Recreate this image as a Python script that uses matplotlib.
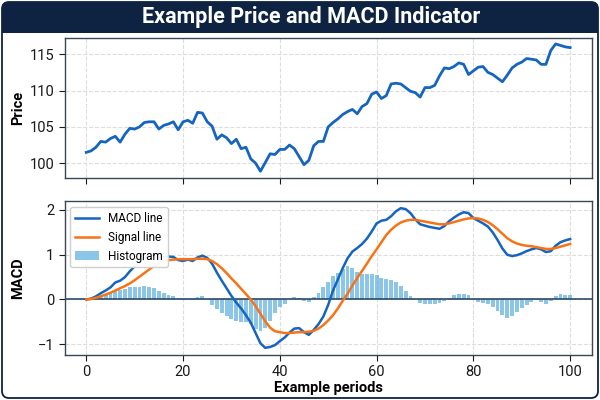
import matplotlib
matplotlib.use("Agg")
import matplotlib.pyplot as plt
from matplotlib.patches import FancyBboxPatch, Rectangle
from matplotlib.transforms import IdentityTransform

plt.rcParams['font.family'] = ['Roboto', 'DejaVu Sans']

# Data
periods = list(range(101))

price = [101.5, 101.7, 102.2, 103.0, 102.9, 103.4, 103.7, 102.9, 104.0, 104.8,
         104.7, 105.0, 105.6, 105.7, 105.7, 104.7, 105.2, 105.4, 105.7, 104.6,
         105.7, 105.9, 105.5, 107.0, 106.9, 105.7, 105.1, 103.3, 103.9, 103.5,
         102.7, 103.3, 102.0, 102.2, 100.6, 100.0, 98.9, 100.1, 101.3, 101.2,
         101.9, 101.9, 102.5, 102.0, 100.9, 99.8, 100.4, 102.4, 103.0, 103.0,
         105.0, 105.6, 106.1, 106.7, 107.1, 107.4, 106.8, 107.8, 108.2, 109.5,
         109.8, 108.9, 109.3, 110.9, 111.0, 110.9, 110.4, 109.9, 109.7, 109.1,
         110.4, 110.4, 110.7, 112.0, 113.1, 113.0, 113.3, 113.8, 113.6, 112.2,
         112.7, 113.2, 113.3, 112.5, 112.2, 111.7, 111.2, 112.1, 113.1, 113.6,
         113.9, 114.4, 114.3, 114.2, 113.6, 113.6, 115.5, 116.4, 116.2, 116.0,
         115.9]

macd = [0.00, 0.02, 0.07, 0.14, 0.20, 0.27, 0.38, 0.42, 0.50, 0.63,
        0.74, 0.83, 0.92, 0.99, 0.98, 0.95, 0.95, 0.96, 0.95, 0.88,
        0.86, 0.89, 0.86, 0.94, 0.98, 0.93, 0.80, 0.60, 0.42, 0.25,
        0.08, -0.07, -0.20, -0.35, -0.52, -0.75, -0.98, -1.08, -1.06, -1.02,
        -0.93, -0.85, -0.74, -0.65, -0.64, -0.73, -0.79, -0.68, -0.55, -0.38,
        -0.12, 0.20, 0.45, 0.70, 0.92, 1.07, 1.15, 1.24, 1.36, 1.52,
        1.70, 1.76, 1.78, 1.86, 1.97, 2.04, 2.02, 1.93, 1.79, 1.68,
        1.65, 1.62, 1.60, 1.58, 1.64, 1.75, 1.83, 1.90, 1.95, 1.93,
        1.82, 1.76, 1.70, 1.63, 1.50, 1.33, 1.14, 1.00, 0.97, 0.99,
        1.03, 1.08, 1.12, 1.15, 1.12, 1.06, 1.08, 1.20, 1.28, 1.32,
        1.35]

signal = [0.00, 0.01, 0.04, 0.07, 0.11, 0.15, 0.20, 0.25, 0.30, 0.36,
          0.43, 0.51, 0.59, 0.67, 0.75, 0.81, 0.85, 0.88, 0.89, 0.90,
          0.90, 0.90, 0.90, 0.91, 0.91, 0.90, 0.86, 0.79, 0.70, 0.59,
          0.47, 0.36, 0.24, 0.12, 0.00, -0.15, -0.32, -0.49, -0.63, -0.71,
          -0.73, -0.75, -0.75, -0.74, -0.73, -0.73, -0.72, -0.70, -0.65, -0.57,
          -0.47, -0.35, -0.20, -0.03, 0.13, 0.31, 0.48, 0.64, 0.80, 0.97,
          1.12, 1.28, 1.44, 1.56, 1.65, 1.72, 1.76, 1.78, 1.78, 1.76,
          1.74, 1.72, 1.70, 1.68, 1.68, 1.70, 1.73, 1.76, 1.79, 1.81,
          1.82, 1.81, 1.78, 1.73, 1.66, 1.57, 1.47, 1.37, 1.30, 1.25,
          1.22, 1.20, 1.19, 1.17, 1.15, 1.13, 1.13, 1.15, 1.18, 1.21,
          1.24]

histogram = [0.00, 0.01, 0.03, 0.07, 0.12, 0.15, 0.19, 0.21, 0.24, 0.27,
             0.28, 0.29, 0.30, 0.28, 0.25, 0.20, 0.14, 0.10, 0.07, 0.00,
             -0.01, 0.00, -0.01, 0.05, 0.07, 0.02, -0.12, -0.22, -0.30, -0.38,
             -0.44, -0.48, -0.50, -0.51, -0.55, -0.65, -0.71, -0.63, -0.48, -0.30,
             -0.17, -0.09, 0.00, 0.06, 0.04, -0.03, -0.05, 0.06, 0.15, 0.27,
             0.40, 0.52, 0.60, 0.68, 0.74, 0.70, 0.62, 0.58, 0.57, 0.57,
             0.55, 0.48, 0.45, 0.43, 0.38, 0.30, 0.18, 0.08, 0.01, -0.08,
             -0.10, -0.10, -0.10, -0.08, -0.03, 0.04, 0.09, 0.12, 0.13, 0.11,
             -0.01, -0.05, -0.08, -0.10, -0.17, -0.25, -0.35, -0.41, -0.36, -0.28,
             -0.20, -0.13, -0.06, -0.02, -0.05, -0.09, -0.03, 0.07, 0.13, 0.11,
             0.10]

navy = '#0d2341'
blue = '#1565c0'
orange = '#f97316'
bar_blue = '#5aaee0'
spine_col = '#3a4556'

fig = plt.figure(figsize=(6, 4), dpi=100)

# outer frame and title bar (pixel coordinates)
px = IdentityTransform()
bar = FancyBboxPatch((2, 367), 596, 31, boxstyle="round,pad=0,rounding_size=7",
                     transform=px, facecolor=navy, edgecolor='none', zorder=0)
bar_fill = Rectangle((2, 367), 596, 12, transform=px, facecolor=navy,
                     edgecolor='none', zorder=0)
frame = FancyBboxPatch((2, 2), 596, 396, boxstyle="round,pad=0,rounding_size=7",
                       transform=px, facecolor='none', edgecolor=navy,
                       linewidth=1.3, zorder=1)
fig.add_artist(bar)
fig.add_artist(bar_fill)
fig.add_artist(frame)
fig.text(0.518, 0.957, "Example Price and MACD Indicator", color='white',
         fontsize=15.5, fontweight='bold', ha='center', va='center')

ax1 = fig.add_axes([0.1075, 0.556, 0.879, 0.35])
ax2 = fig.add_axes([0.1075, 0.113, 0.879, 0.384], sharex=ax1)

# price panel
ax1.plot(periods, price, color=blue, linewidth=2)
ax1.set_ylabel("Price", fontsize=10.5, fontweight='bold')
ax1.set_yticks([100, 105, 110, 115])
ax1.tick_params(axis='x', labelbottom=False)

# MACD panel
ax2.bar(periods, histogram, width=0.8, color=bar_blue, alpha=0.7, label="Histogram", zorder=2)
ax2.plot(periods, macd, color=blue, linewidth=1.8, label="MACD line", zorder=3)
ax2.plot(periods, signal, color=orange, linewidth=1.8, label="Signal line", zorder=3)
ax2.axhline(0, color='#2c4a6b', linewidth=1.2, zorder=2.5)
ax2.set_ylabel("MACD", fontsize=10.5, fontweight='bold')
ax2.set_xlabel("Example periods", fontsize=10.5, fontweight='bold', labelpad=1)
ax2.set_yticks([-1, 0, 1, 2])
ax2.set_xticks([0, 20, 40, 60, 80, 100])
ax2.legend(loc='upper left', fontsize=8.5, frameon=True, fancybox=True,
           edgecolor='#cccccc', framealpha=0.95)

for ax in (ax1, ax2):
    ax.set_xlim(-4.5, 104.5)
    ax.grid(True, linestyle='--', color='#dddddd', linewidth=0.8)
    ax.set_axisbelow(True)
    ax.tick_params(labelsize=10.5, colors='#1a1a1a', length=4)
    for s in ax.spines.values():
        s.set_color(spine_col)
        s.set_linewidth(1.0)
    ax.yaxis.set_label_coords(-0.075, 0.5)

fig.savefig("out.png", dpi=100)
